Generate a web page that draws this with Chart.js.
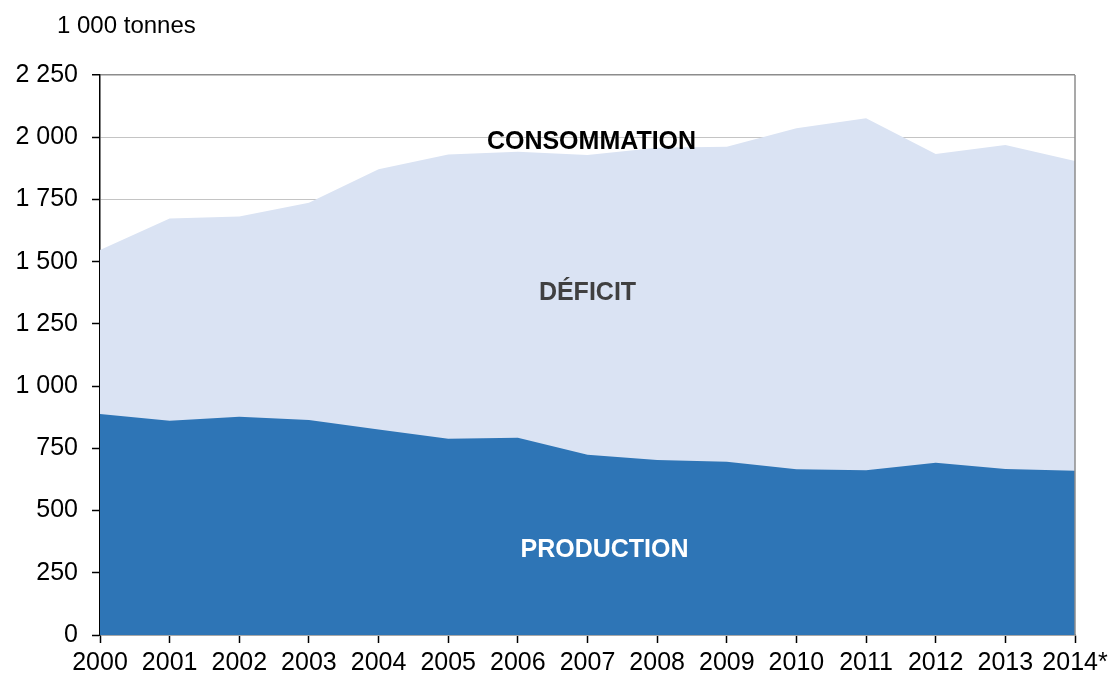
<!DOCTYPE html>
<html>
<head>
<meta charset="utf-8">
<script src="https://cdn.jsdelivr.net/npm/chart.js@4"></script>
<style>
  html, body { margin: 0; padding: 0; background: #fff; }
  #box { width: 1110px; height: 677px; }
</style>
</head>
<body>
<div id="box"><canvas id="grafico"></canvas></div>
<script>
// ================= DONNÉES =================
const annees = ["2000", "2001", "2002", "2003", "2004", "2005", "2006", "2007",
                "2008", "2009", "2010", "2011", "2012", "2013", "2014*"];

// milliers de tonnes
const consommation = [1547, 1673, 1681, 1737, 1871, 1931, 1942, 1929,
                      1958, 1962, 2036, 2076, 1933, 1969, 1904];
const production = [888, 861, 877, 864, 826, 789, 793, 724,
                    703, 696, 666, 662, 692, 667, 660];

const unite = "1 000 tonnes";
const yTicks = { min: 0, max: 2250, step: 250 };

const FONTE = "'Liberation Sans', Arial, sans-serif";
const BLEU = "#2E75B6";
const BLEU_CLAIR = "#DAE3F3";

// nombres façon "2 250"
const milliers = v => String(v).replace(/\B(?=(\d{3})+(?!\d))/g, " ");

// ================= TEXTES + CADRE =================
const habillage = {
  id: "habillage",
  afterDatasetsDraw(chart) {
    const c = chart.ctx;
    const a = chart.chartArea;
    const x = chart.scales.x;
    const y = chart.scales.y;

    // cadre droit
    c.save();
    c.strokeStyle = "#8C8C8C";
    c.lineWidth = 1.5;
    c.beginPath();
    c.moveTo(a.right, a.top);
    c.lineTo(a.right, a.bottom);
    c.stroke();

    c.textAlign = "center";
    c.textBaseline = "middle";
    c.font = "bold 25px " + FONTE;

    const milieu = x.getPixelForValue(7);

    c.fillStyle = "#000";
    c.fillText("CONSOMMATION", milieu + 4, y.getPixelForValue(1980));

    c.fillStyle = "#404040";
    c.fillText("DÉFICIT", milieu, y.getPixelForValue(1375));

    c.fillStyle = "#fff";
    c.fillText("PRODUCTION", milieu + 17, y.getPixelForValue(342));

    // unité
    c.fillStyle = "#000";
    c.font = "24px " + FONTE;
    c.textAlign = "left";
    c.fillText(unite, 57, 26);
    c.restore();
  }
};

// ================= GRAPHIQUE =================
const ctx = document.getElementById("grafico").getContext("2d");

new Chart(ctx, {
  type: "line",
  data: {
    labels: annees,
    datasets: [
      {
        label: "Production",
        data: production,
        backgroundColor: BLEU,
        borderWidth: 0,
        pointRadius: 0,
        fill: "origin",
        tension: 0
      },
      {
        label: "Consommation",
        data: consommation,
        backgroundColor: BLEU_CLAIR,
        borderWidth: 0,
        pointRadius: 0,
        fill: "origin",
        tension: 0
      }
    ]
  },
  options: {
    responsive: true,
    maintainAspectRatio: false,
    animation: false,
    layout: { padding: { top: 75, right: 35, bottom: 0, left: 0 } },
    plugins: {
      legend: { display: false },
      tooltip: { enabled: false }
    },
    scales: {
      x: {
        offset: false,
        afterFit: s => {
          s.height = 42;
          s.paddingLeft = 0;
          s.paddingRight = 0;
        },
        grid: {
          drawOnChartArea: false,
          drawTicks: true,
          tickLength: 8,
          tickColor: "#000",
          tickWidth: 1.5
        },
        border: { color: "#8C8C8C", width: 1.5 },
        ticks: {
          color: "#000",
          padding: 5,
          maxRotation: 0,
          autoSkip: false,
          font: { family: FONTE, size: 25 }
        }
      },
      y: {
        min: yTicks.min,
        max: yTicks.max,
        afterFit: s => { s.width = 100; },
        grid: {
          color: c => c.tick && c.tick.value === yTicks.max ? "#8C8C8C" : "#C4C4C4",
          lineWidth: c => c.tick && c.tick.value === yTicks.max ? 1.5 : 1,
          tickLength: 8,
          tickColor: "#000",
          tickWidth: 1.5
        },
        border: { color: "#000", width: 1.5 },
        ticks: {
          stepSize: yTicks.step,
          color: "#000",
          padding: 14,
          font: { family: FONTE, size: 25 },
          callback: v => milliers(v)
        }
      }
    }
  },
  plugins: [habillage]
});
</script>
</body>
</html>
